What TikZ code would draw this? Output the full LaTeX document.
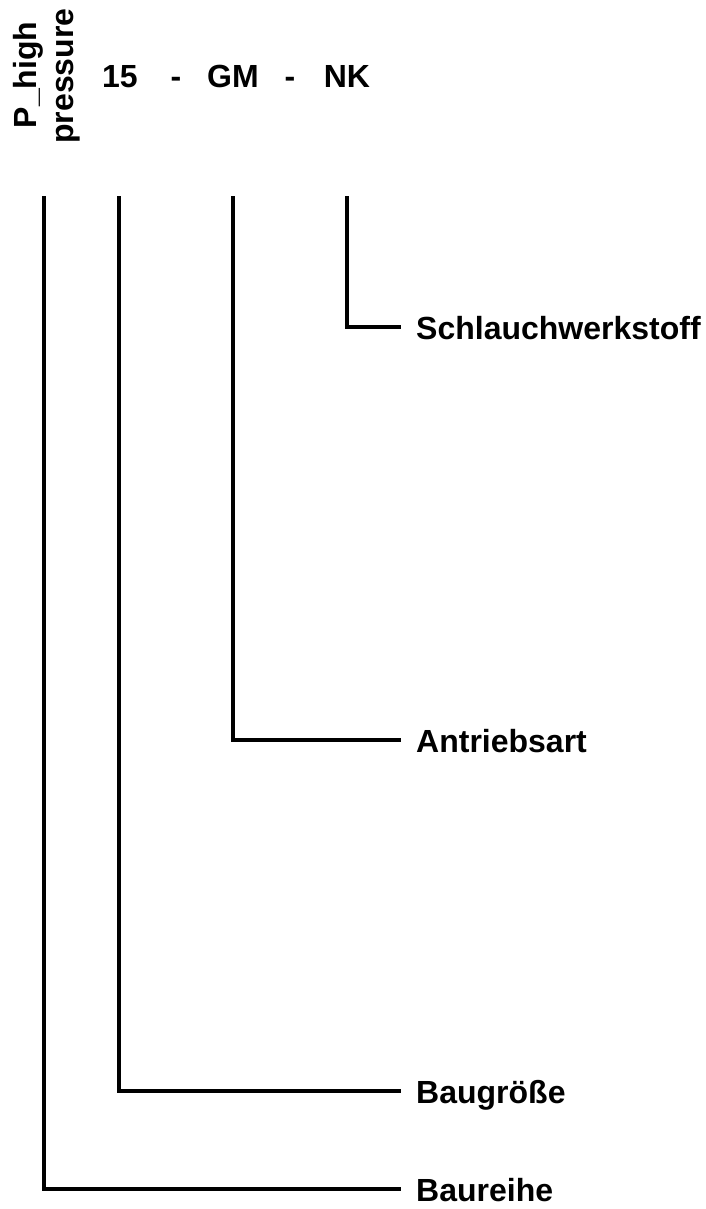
\documentclass[tikz,border=0pt]{standalone}
\usepackage{fontspec}
\setmainfont{Liberation Sans}
\begin{document}
\begin{tikzpicture}[x=1pt,y=-1pt,
  every node/.style={font=\bfseries\fontsize{32}{37}\selectfont},
  toplabel/.style={anchor=base,inner sep=0pt},
  sidelabel/.style={anchor=west,inner xsep=15pt,inner ysep=0pt,text height=24pt,text depth=0pt},
  conn/.style={line width=4pt}]
\useasboundingbox (0,0) rectangle (706,1209);
% top labels
\node[toplabel,rotate=90] (ph) at (36,75) {P\_high};
\node[toplabel,rotate=90] (pr) at (73,76) {pressure};
\node[toplabel] (n15) at (120,88) {15};
\node[toplabel] (d1) at (176,88) {-};
\node[toplabel] (gm) at (233,88) {GM};
\node[toplabel] (d2) at (290,88) {-};
\node[toplabel] (nk) at (347,88) {NK};
% line tops
\coordinate (t1) at (44,196);
\coordinate (t2) at (119,196);
\coordinate (t3) at (233,196);
\coordinate (t4) at (347,196);
% side labels
\node[sidelabel] (schl) at (401,327) {Schlauchwerkstoff};
\node[sidelabel] (antr) at (401,740) {Antriebsart};
\node[sidelabel] (bgr) at (401,1091) {Baugröße};
\node[sidelabel] (brh) at (401,1189) {Baureihe};
% connectors
\draw[conn] (t4) |- (schl.west);
\draw[conn] (t3) |- (antr.west);
\draw[conn] (t2) |- (bgr.west);
\draw[conn] (t1) |- (brh.west);
\end{tikzpicture}
\end{document}
